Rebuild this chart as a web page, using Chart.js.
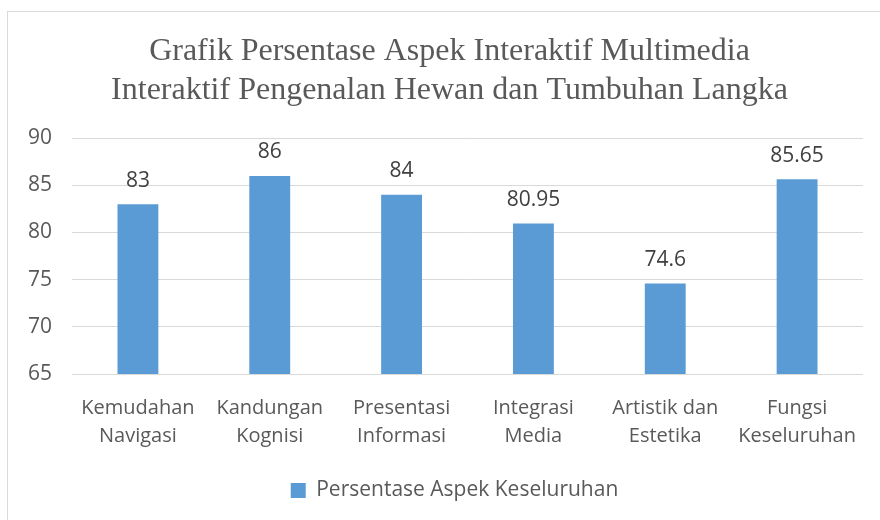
<!DOCTYPE html>
<html>
<head>
<meta charset="utf-8">
<script src="https://cdn.jsdelivr.net/npm/chart.js@4.4.0/dist/chart.umd.min.js"></script>
<style>
  html, body { margin: 0; padding: 0; background: #fff; }
  #wrap { width: 880px; height: 520px; position: relative; }
</style>
</head>
<body>
<div id="wrap"><canvas id="chart" width="880" height="520"></canvas></div>
<script>
// data
const categories = [
  ['Kemudahan', 'Navigasi'],
  ['Kandungan', 'Kognisi'],
  ['Presentasi', 'Informasi'],
  ['Integrasi', 'Media'],
  ['Artistik dan', 'Estetika'],
  ['Fungsi', 'Keseluruhan']
];
const values = [83, 86, 84, 80.95, 74.6, 85.65];
const seriesName = 'Persentase Aspek Keseluruhan';
const titleLines = [
  'Grafik Persentase Aspek Interaktif Multimedia',
  'Interaktif Pengenalan Hewan dan Tumbuhan Langka'
];

const SANS = '"Open Sans", "Noto Sans", sans-serif';
const TEXT = '#595959';

// frame around the chart; title and legend nudged right (original frame is wider than the view)
const framePlugin = {
  id: 'frame',
  afterLayout(chart) {
    if (chart.titleBlock) {
      chart.titleBlock.left += 11;
      chart.titleBlock.right += 11;
    }
    if (chart.legend) {
      chart.legend.left += 16;
      chart.legend.right += 16;
    }
  },
  beforeDraw(chart) {
    const c = chart.ctx;
    c.save();
    c.fillStyle = '#fff';
    c.fillRect(0, 0, chart.width, chart.height);
    c.strokeStyle = '#d9d9d9';
    c.lineWidth = 1;
    c.strokeRect(7.5, 11.5, chart.width, chart.height);
    c.restore();
  }
};

// value labels above bars
const labelPlugin = {
  id: 'valueLabels',
  afterDatasetsDraw(chart) {
    const c = chart.ctx;
    const meta = chart.getDatasetMeta(0);
    c.save();
    c.font = '21px ' + SANS;
    c.fillStyle = '#404040';
    c.textAlign = 'center';
    c.textBaseline = 'bottom';
    meta.data.forEach((bar, i) => {
      c.fillText(String(values[i]), bar.x, bar.y - 13);
    });
    c.restore();
  }
};

new Chart(document.getElementById('chart'), {
  type: 'bar',
  data: {
    labels: categories,
    datasets: [{
      label: seriesName,
      data: values,
      backgroundColor: '#5b9bd5',
      borderWidth: 0,
      barPercentage: 0.31,
      categoryPercentage: 1
    }]
  },
  options: {
    responsive: false,
    animation: false,
    layout: { padding: { left: 14, right: 17, top: 20, bottom: 9 } },
    plugins: {
      title: {
        display: true,
        text: titleLines,
        color: TEXT,
        font: { family: '"Liberation Serif", "Times New Roman", serif', size: 32, weight: 'normal', lineHeight: 1.19 },
        padding: { top: 13, bottom: 29 }
      },
      legend: {
        position: 'bottom',
        labels: {
          color: TEXT,
          font: { family: SANS, size: 21 },
          boxWidth: 15,
          boxHeight: 15,
          padding: 18
        }
      },
      tooltip: { enabled: false }
    },
    scales: {
      x: {
        grid: { display: false },
        border: { display: false },
        ticks: {
          color: TEXT,
          font: { family: SANS, size: 20, lineHeight: 1.4 },
          maxRotation: 0,
          autoSkip: false,
          padding: 12
        }
      },
      y: {
        min: 65,
        max: 90,
        afterFit(scale) { scale.width = 58; },
        ticks: {
          stepSize: 5,
          color: TEXT,
          font: { family: SANS, size: 21 },
          padding: 20
        },
        grid: { color: '#d9d9d9', drawTicks: false },
        border: { display: false }
      }
    }
  },
  plugins: [framePlugin, labelPlugin]
});
</script>
</body>
</html>
